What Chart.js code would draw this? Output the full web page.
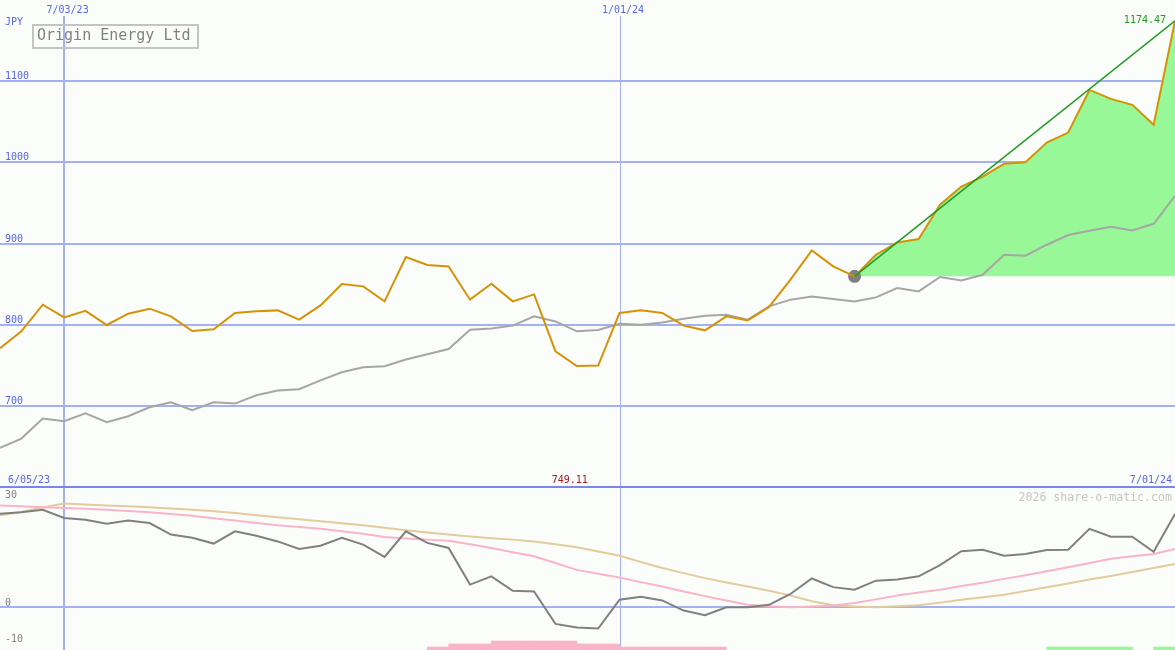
<!DOCTYPE html>
<html>
<head>
<meta charset="utf-8">
<title>Origin Energy Ltd</title>
<script src="https://cdn.jsdelivr.net/npm/chart.js@4.4.1/dist/chart.umd.min.js"></script>
<style>
  html, body { margin: 0; padding: 0; background: #fbfdfb; }
  #wrap { position: relative; width: 1175px; height: 650px; overflow: hidden; }
  #priceChart { position: absolute; left: 0; top: 0; }
  #oscChart { position: absolute; left: 0; top: 486px; }
</style>
</head>
<body>
<div id="wrap">
  <canvas id="priceChart" width="1175" height="487"></canvas>
  <canvas id="oscChart" width="1175" height="164"></canvas>
</div>
<script>
// ===== DATA =====
const weeks = [
  '6/12/23', '6/19/23', '6/26/23', '7/03/23', '7/10/23', '7/17/23', '7/24/23', '7/31/23',
  '8/07/23', '8/14/23', '8/21/23', '8/28/23', '9/04/23', '9/11/23', '9/18/23', '9/25/23',
  '10/02/23', '10/09/23', '10/16/23', '10/23/23', '10/30/23', '11/06/23', '11/13/23', '11/20/23',
  '11/27/23', '12/04/23', '12/11/23', '12/18/23', '12/25/23', '1/01/24', '1/08/24', '1/15/24',
  '1/22/24', '1/29/24', '2/05/24', '2/12/24', '2/19/24', '2/26/24', '3/04/24', '3/11/24',
  '3/18/24', '3/25/24', '4/01/24', '4/08/24', '4/15/24', '4/22/24', '4/29/24', '5/06/24',
  '5/13/24', '5/20/24', '5/27/24', '6/03/24', '6/10/24', '6/17/24', '6/24/24', '7/01/24'
];

// weekly close
const price = [
  771, 791.8, 824.6, 809, 817, 799.6, 813.5, 819.7, 810.3, 792.2,
  794.3, 814.4, 816.4, 817.6, 806.2, 823.8, 850.1, 847.2, 828.7, 883.3,
  873.5, 871.8, 830.8, 850.5, 828.7, 837.3, 767.2, 749.11, 749.6, 814.4,
  817.6, 814.4, 798.8, 793, 810.3, 805.3, 821.8, 855.4, 891.4, 871.8,
  859.5, 886.2, 901.3, 905.5, 947.7, 970.2, 982.5, 998.2, 1000.2, 1024.4,
  1036.7, 1089.2, 1078.2, 1070.8, 1046.2, 1174.47
];

// moving average (grey)
const priceAvg = [
  648.2, 659.7, 684.3, 681, 690.9, 679.8, 687.2, 698.2, 704.4, 694.5,
  704.4, 702.8, 713, 718.8, 720.4, 731.4, 741.3, 747.5, 748.8, 757,
  763.5, 770, 793.8, 795.4, 798.8, 810.3, 804, 791.8, 793.4, 801.2,
  800, 802.8, 807.4, 811.1, 812.3, 806.2, 822.5, 830.8, 834.8, 831.6,
  828.7, 833.6, 845.2, 841, 858.7, 854.5, 861.5, 886.2, 884.9, 898.5,
  910.4, 915.7, 920.6, 916, 924.3, 958.8
];

// lower panel
const oscillator = [
  26, 26.4, 27.1, 24.8, 24.3, 23.2, 24.1, 23.4, 20.2, 19.3,
  17.7, 21.1, 19.9, 18.3, 16.2, 17.1, 19.3, 17.4, 14, 21.1,
  17.9, 16.5, 6.3, 8.6, 4.6, 4.4, -4.6, -5.6, -5.9, 2.1,
  2.9, 1.9, -0.9, -2.2, 0, 0, 0.7, 3.7, 8, 5.6,
  4.9, 7.4, 7.7, 8.6, 11.7, 15.6, 16, 14.3, 14.8, 15.9,
  16, 21.8, 19.6, 19.6, 15.4, 25.9
];
const oscFast = [
  28.3, 28.05, 27.8, 27.6, 27.35, 27.1, 26.75, 26.4, 25.9, 25.4,
  24.75, 24.1, 23.45, 22.8, 22.3, 21.8, 21.1, 20.4, 19.5, 19.1,
  18.8, 18.5, 17.5, 16.5, 15.3, 14.2, 12.3, 10.4, 9.3, 8.3,
  7.0, 5.8, 4.4, 3.1, 1.9, 0.7, 0.3, 0.0, 0.2, 0.5,
  1.2, 2.2, 3.3, 4.1, 4.9, 5.9, 6.8, 7.9, 8.9, 10.0,
  11.1, 12.3, 13.5, 14.2, 14.8, 16.2
];
const oscSlow = [
  25.6, 26.5, 27.7, 28.8, 28.55, 28.3, 28.05, 27.8, 27.45, 27.1,
  26.65, 26.2, 25.6, 25.0, 24.45, 23.9, 23.35, 22.8, 22.1, 21.4,
  20.8, 20.2, 19.7, 19.2, 18.8, 18.3, 17.5, 16.7, 15.5, 14.3,
  12.6, 10.9, 9.5, 8.1, 6.9, 5.8, 4.6, 3.3, 1.7, 0.6,
  0.2, 0.0, 0.3, 0.6, 1.3, 2.1, 2.8, 3.5, 4.5, 5.6,
  6.6, 7.7, 8.7, 9.8, 10.9, 12.0
];
const pinkBars = [
  0, 0, 0, 0, 0, 0, 0, 0, 0, 0,
  0, 0, 0, 0, 0, 0, 0, 0, 0, 0,
  0.83, 1.67, 1.67, 2.5, 2.5, 2.5, 2.5, 1.67, 1.67, 0.83,
  0.83, 0.83, 0.83, 0.83, 0, 0, 0, 0, 0, 0,
  0, 0, 0, 0, 0, 0, 0, 0, 0, 0,
  0, 0, 0, 0, 0, 0
];
const greenBars = [
  0, 0, 0, 0, 0, 0, 0, 0, 0, 0,
  0, 0, 0, 0, 0, 0, 0, 0, 0, 0,
  0, 0, 0, 0, 0, 0, 0, 0, 0, 0,
  0, 0, 0, 0, 0, 0, 0, 0, 0, 0,
  0, 0, 0, 0, 0, 0, 0, 0, 0, 0.83,
  0.83, 0.83, 0.83, 0, 0.83, 0
];

const priceTicks = [700, 800, 900, 1000, 1100];
const oscTicks = [30, 0, -10];
const dateTicks = ['7/03/23', '1/01/24'];
const rangeStart = '6/05/23';
const trendStart = '3/18/24';
const stockName = 'Origin Energy Ltd';
const currency = 'JPY';
const credit = '2026 share-o-matic.com';

// ===== STYLE =====
const FONT = '"DejaVu Sans Mono", monospace';
const BLUE = '#5565ee';
const GRID = '#a3b1f2';
const OSC_MIN = -11.86;
const OSC_MAX = 33.14;

const last = price.length - 1;
const t0 = weeks.indexOf(trendStart);
const minIdx = price.indexOf(Math.min(...price));
const pts = arr => arr.map((v, i) => ({x: i, y: v}));

// ===== PRICE PANEL =====
const priceDecor = {
    id: 'priceDecor',
    beforeDatasetsDraw(chart) {
        const {ctx, scales: {x, y}, chartArea: a} = chart;
        ctx.save();
        ctx.strokeStyle = GRID;
        ctx.lineWidth = 2;
        priceTicks.forEach(v => {
            const py = Math.round(y.getPixelForValue(v));
            ctx.beginPath();
            ctx.moveTo(a.left, py);
            ctx.lineTo(a.right, py);
            ctx.stroke();
        });
        dateTicks.forEach((d, k) => {
            const w = k === 0 ? 2 : 1;
            let px = x.getPixelForValue(weeks.indexOf(d));
            px = w === 1 ? Math.round(px) + 0.5 : Math.round(px);
            ctx.lineWidth = w;
            ctx.beginPath();
            ctx.moveTo(px, 16);
            ctx.lineTo(px, a.bottom);
            ctx.stroke();
        });
        ctx.restore();
    },
    afterDatasetsDraw(chart) {
        const {ctx, scales: {x, y}} = chart;
        ctx.save();
        ctx.font = '10px ' + FONT;
        ctx.fillStyle = BLUE;
        ctx.textBaseline = 'alphabetic';
        ctx.textAlign = 'left';
        priceTicks.forEach(v => {
            ctx.fillText(String(v), 5, y.getPixelForValue(v) - 2);
        });
        ctx.fillText(currency, 5, 25);

        ctx.textAlign = 'center';
        dateTicks.forEach(d => {
            ctx.fillText(d, x.getPixelForValue(weeks.indexOf(d)) + 3.5, 13);
        });

        // bottom date row
        ctx.textAlign = 'left';
        ctx.fillText(rangeStart, 8, 483);
        ctx.textAlign = 'right';
        ctx.fillText(weeks[last], 1172, 483);
        ctx.fillStyle = '#a81c1c';
        ctx.textAlign = 'center';
        ctx.fillText(price[minIdx].toFixed(2), x.getPixelForValue(minIdx) - 7, 483);

        // last value
        ctx.fillStyle = '#1f9a1f';
        ctx.textAlign = 'right';
        ctx.textBaseline = 'middle';
        ctx.fillText(price[last].toFixed(2), x.getPixelForValue(last) - 9, y.getPixelForValue(price[last]));

        // name box
        ctx.strokeStyle = '#c4c4c4';
        ctx.lineWidth = 2;
        ctx.strokeRect(33, 25, 165, 23);
        ctx.fillStyle = '#808080';
        ctx.font = '15px ' + FONT;
        ctx.textAlign = 'left';
        ctx.fillText(stockName, 37, 36.5);
        ctx.restore();
    }
};

new Chart(document.getElementById('priceChart'), {
    type: 'line',
    data: {
        datasets: [
            {
                // trend line from the marked low to the last close
                data: [{x: t0, y: price[t0]}, {x: last, y: price[last]}],
                borderColor: '#1f9a1f',
                borderWidth: 1.5,
                pointRadius: 0,
                fill: false,
                order: 1
            },
            {
                data: pts(price),
                borderColor: '#d69206',
                borderWidth: 2,
                pointRadius: 0,
                fill: false,
                order: 2
            },
            {
                data: pts(priceAvg),
                borderColor: '#a6a6a6',
                borderWidth: 2,
                pointRadius: 0,
                fill: false,
                order: 3
            },
            {
                type: 'scatter',
                data: [{x: t0, y: price[t0]}],
                backgroundColor: '#7f7f7f',
                borderWidth: 0,
                pointRadius: 6.5,
                order: 4
            },
            {
                data: price.map((v, i) => ({x: i, y: i >= t0 ? v : null})),
                borderWidth: 0,
                pointRadius: 0,
                backgroundColor: '#98f898',
                fill: {value: price[t0]},
                order: 5
            }
        ]
    },
    options: {
        responsive: false,
        animation: false,
        devicePixelRatio: 1,
        layout: {padding: 0, autoPadding: false},
        plugins: {
            legend: {display: false},
            tooltip: {enabled: false}
        },
        scales: {
            x: {type: 'linear', display: false, min: 0, max: last, offset: false},
            y: {type: 'linear', display: false, min: 600, max: 1200}
        }
    },
    plugins: [priceDecor]
});

// ===== OSCILLATOR PANEL =====
const oscDecor = {
    id: 'oscDecor',
    beforeDatasetsDraw(chart) {
        const {ctx, scales: {x, y}, chartArea: a} = chart;
        ctx.save();
        ctx.fillStyle = '#7a86ea';
        ctx.fillRect(0, 0, chart.width, 2);
        ctx.strokeStyle = GRID;
        ctx.lineWidth = 2;
        const py = Math.round(y.getPixelForValue(0));
        ctx.beginPath();
        ctx.moveTo(a.left, py);
        ctx.lineTo(a.right, py);
        ctx.stroke();
        dateTicks.forEach((d, k) => {
            const w = k === 0 ? 2 : 1;
            let px = x.getPixelForValue(weeks.indexOf(d));
            px = w === 1 ? Math.round(px) + 0.5 : Math.round(px);
            ctx.lineWidth = w;
            ctx.beginPath();
            ctx.moveTo(px, a.top);
            ctx.lineTo(px, a.bottom);
            ctx.stroke();
        });
        ctx.restore();
    },
    afterDatasetsDraw(chart) {
        const {ctx, scales: {y}} = chart;
        ctx.save();
        ctx.font = '10px ' + FONT;
        ctx.fillStyle = '#808080';
        ctx.textAlign = 'left';
        ctx.textBaseline = 'alphabetic';
        oscTicks.forEach(v => {
            ctx.fillText(String(v), 5, y.getPixelForValue(v) - 1.5);
        });
        ctx.font = '11.6px ' + FONT;
        ctx.fillStyle = '#c6c6c6';
        ctx.textAlign = 'right';
        ctx.fillText(credit, 1172, 14.5);
        ctx.restore();
    }
};

const barSet = (arr, color) => ({
    type: 'bar',
    data: arr.map((h, i) => h > 0 ? {x: i + 0.5, y: [OSC_MIN - 1, OSC_MIN + h]} : null).filter(Boolean),
    backgroundColor: color,
    borderWidth: 0,
    grouped: false,
    barPercentage: 1,
    categoryPercentage: 1,
    order: 10
});

new Chart(document.getElementById('oscChart'), {
    type: 'line',
    data: {
        datasets: [
            {data: pts(oscillator), borderColor: '#808080', borderWidth: 2, pointRadius: 0, order: 1},
            {data: pts(oscFast), borderColor: '#fab4c8', borderWidth: 2, pointRadius: 0, order: 2},
            {data: pts(oscSlow), borderColor: '#e3cc9c', borderWidth: 2, pointRadius: 0, order: 3},
            barSet(pinkBars, '#fab4c8'),
            barSet(greenBars, '#98f898')
        ]
    },
    options: {
        responsive: false,
        animation: false,
        devicePixelRatio: 1,
        layout: {padding: {top: 2}, autoPadding: false},
        plugins: {
            legend: {display: false},
            tooltip: {enabled: false}
        },
        scales: {
            x: {type: 'linear', display: false, min: 0, max: last, offset: false},
            y: {type: 'linear', display: false, min: OSC_MIN, max: OSC_MAX}
        }
    },
    plugins: [oscDecor]
});
</script>
</body>
</html>
